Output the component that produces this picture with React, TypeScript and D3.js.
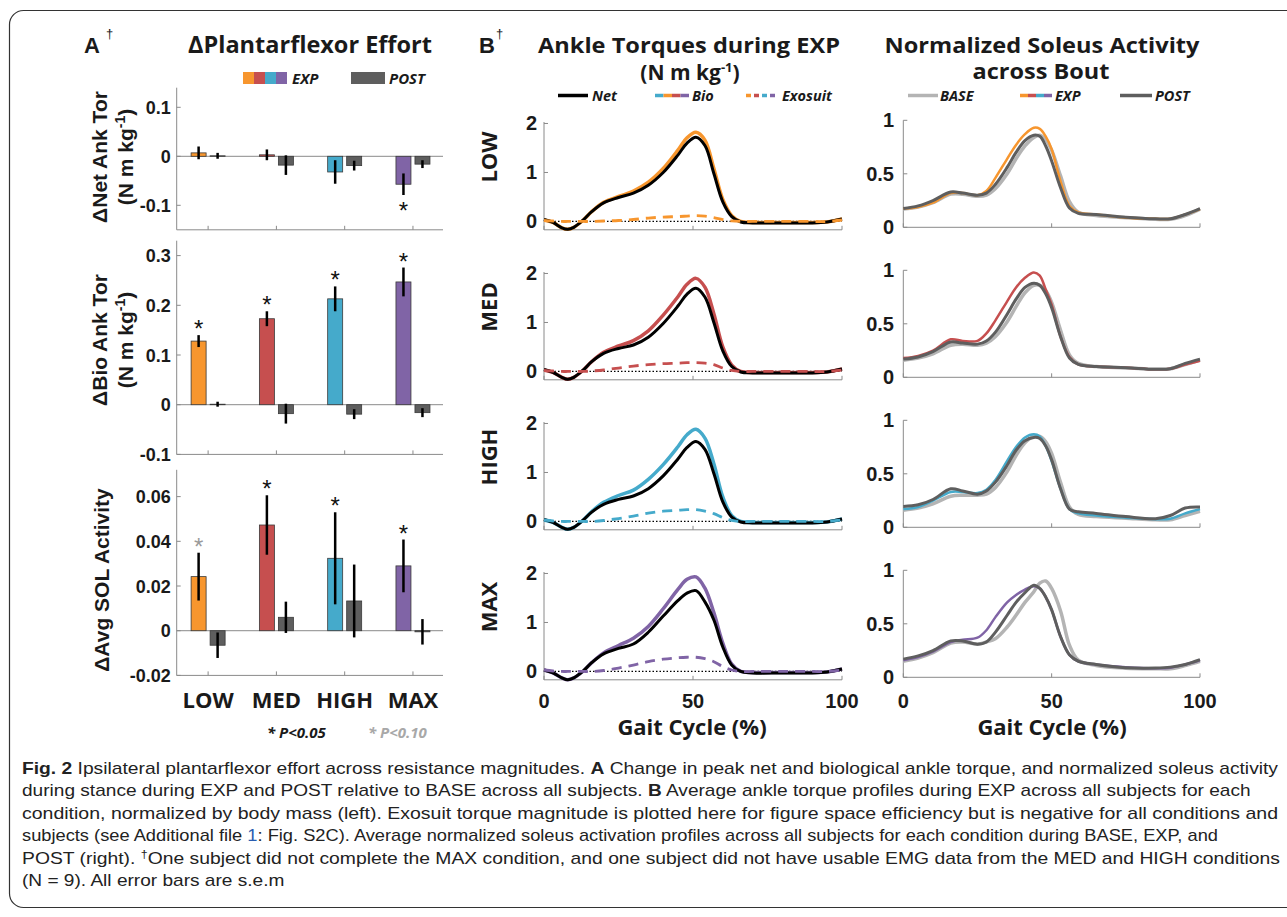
import React, { useEffect, useRef } from "react";
import * as d3 from "d3";

// ---------- data ----------
const conditions = ["LOW", "MED", "HIGH", "MAX"];
const condColors = ["#F7962E", "#C64F4F", "#45AACB", "#8064A6"];
const postColor = "#5E5E5E";
const baseColor = "#B4B4B4";

// panel A: change from BASE, mean and s.e.m.
const netExp = [0.007, 0.003, -0.032, -0.057];
const netExpErr = [0.013, 0.011, 0.024, 0.022];
const netPost = [0.001, -0.018, -0.019, -0.016];
const netPostErr = [0.006, 0.02, 0.01, 0.008];
const netStars = [0, 0, 0, 1];

const bioExp = [0.128, 0.173, 0.213, 0.247];
const bioExpErr = [0.012, 0.015, 0.025, 0.029];
const bioPost = [0.001, -0.018, -0.019, -0.016];
const bioPostErr = [0.005, 0.02, 0.01, 0.009];
const bioStars = [1, 1, 1, 1];

const solExp = [0.0242, 0.0473, 0.0324, 0.029];
const solExpErr = [0.0107, 0.0133, 0.0206, 0.0118];
const solPost = [-0.0065, 0.006, 0.0133, -0.0005];
const solPostErr = [0.0057, 0.007, 0.0163, 0.0057];
const solStars = [2, 1, 1, 1]; // 1: P<0.05, 2: P<0.10

// panel B: ankle torque during EXP (N m kg-1)
const torquePct = [0, 3, 6, 8, 10, 13, 16, 20, 25, 30, 35, 40, 45, 48, 51, 54, 57, 60, 63, 66, 70, 80, 90, 95, 100];
const netLow = [0.04, -0.02, -0.13, -0.16, -0.12, 0.02, 0.2, 0.38, 0.49, 0.58, 0.74, 1.0, 1.36, 1.6, 1.72, 1.55, 0.98, 0.4, 0.1, -0.01, -0.03, -0.03, -0.03, -0.01, 0.05];
const bioLow = [0.03, -0.02, -0.13, -0.16, -0.12, 0.02, 0.2, 0.39, 0.51, 0.62, 0.8, 1.08, 1.46, 1.71, 1.82, 1.66, 1.08, 0.45, 0.12, 0.0, -0.02, -0.02, -0.02, -0.01, 0.05];
const exoLow = [0.02, 0.01, 0.0, 0.0, 0.0, 0.0, 0.0, 0.01, 0.02, 0.04, 0.07, 0.09, 0.1, 0.11, 0.12, 0.11, 0.08, 0.04, 0.01, 0.0, 0.0, 0.0, 0.0, 0.0, 0.03];
const netMed = [0.04, -0.02, -0.12, -0.16, -0.12, 0.02, 0.2, 0.37, 0.47, 0.54, 0.7, 0.98, 1.34, 1.58, 1.7, 1.52, 1.0, 0.42, 0.1, -0.01, -0.03, -0.03, -0.03, -0.01, 0.05];
const bioMed = [0.03, -0.02, -0.12, -0.16, -0.12, 0.02, 0.2, 0.39, 0.52, 0.63, 0.83, 1.15, 1.53, 1.78, 1.9, 1.72, 1.18, 0.5, 0.13, 0.0, -0.02, -0.02, -0.02, -0.01, 0.05];
const exoMed = [0.02, 0.01, 0.0, 0.0, 0.0, 0.0, 0.01, 0.03, 0.07, 0.11, 0.14, 0.16, 0.17, 0.18, 0.18, 0.17, 0.14, 0.07, 0.02, 0.0, 0.0, 0.0, 0.0, 0.0, 0.03];
const netHigh = [0.04, -0.02, -0.12, -0.16, -0.12, 0.02, 0.19, 0.35, 0.45, 0.52, 0.67, 0.93, 1.28, 1.51, 1.63, 1.47, 0.98, 0.4, 0.09, -0.01, -0.03, -0.03, -0.03, -0.01, 0.05];
const bioHigh = [0.03, -0.02, -0.12, -0.16, -0.12, 0.02, 0.2, 0.39, 0.53, 0.64, 0.86, 1.16, 1.53, 1.77, 1.88, 1.7, 1.18, 0.5, 0.12, 0.0, -0.02, -0.02, -0.02, -0.01, 0.05];
const exoHigh = [0.03, 0.01, 0.0, 0.0, 0.0, 0.0, 0.0, 0.02, 0.06, 0.11, 0.17, 0.21, 0.23, 0.24, 0.24, 0.21, 0.16, 0.08, 0.02, 0.0, 0.0, 0.0, 0.0, 0.0, 0.03];
const netMax = [0.03, -0.03, -0.13, -0.17, -0.13, 0.0, 0.18, 0.36, 0.47, 0.56, 0.8, 1.13, 1.45, 1.6, 1.65, 1.42, 1.05, 0.5, 0.13, 0.0, -0.03, -0.03, -0.03, -0.01, 0.05];
const bioMax = [0.03, -0.03, -0.13, -0.17, -0.13, 0.0, 0.18, 0.38, 0.53, 0.68, 0.92, 1.28, 1.68, 1.88, 1.93, 1.7, 1.2, 0.58, 0.15, 0.0, -0.02, -0.02, -0.02, -0.01, 0.05];
const exoMax = [0.03, 0.01, 0.0, 0.0, 0.0, 0.0, 0.0, 0.02, 0.07, 0.13, 0.2, 0.25, 0.28, 0.29, 0.29, 0.26, 0.2, 0.1, 0.03, 0.0, 0.0, 0.0, 0.0, 0.0, 0.03];

// panel B: normalized soleus activity
const emgPct = [0, 5, 10, 16, 20, 25, 28, 31, 35, 38, 41, 44, 46, 48, 50, 53, 56, 59, 65, 75, 85, 90, 95, 100];
const baseLow = [0.17, 0.19, 0.23, 0.31, 0.31, 0.29, 0.3, 0.36, 0.5, 0.64, 0.76, 0.84, 0.86, 0.82, 0.72, 0.48, 0.24, 0.14, 0.11, 0.09, 0.075, 0.075, 0.11, 0.17];
const expLow = [0.175, 0.19, 0.23, 0.32, 0.32, 0.3, 0.34, 0.46, 0.64, 0.77, 0.87, 0.93, 0.92, 0.85, 0.73, 0.43, 0.2, 0.14, 0.12, 0.09, 0.08, 0.08, 0.12, 0.17];
const postLow = [0.175, 0.2, 0.25, 0.33, 0.32, 0.3, 0.32, 0.4, 0.56, 0.7, 0.81, 0.86, 0.85, 0.76, 0.62, 0.37, 0.18, 0.13, 0.12, 0.095, 0.08, 0.08, 0.12, 0.175];
const baseMed = [0.16, 0.18, 0.22, 0.3, 0.31, 0.3, 0.32, 0.38, 0.52, 0.66, 0.79, 0.86, 0.86, 0.81, 0.7, 0.44, 0.21, 0.13, 0.1, 0.09, 0.075, 0.08, 0.12, 0.16];
const expMed = [0.18, 0.2, 0.25, 0.355, 0.34, 0.34, 0.41, 0.53, 0.71, 0.84, 0.93, 0.98, 0.95, 0.82, 0.68, 0.38, 0.19, 0.12, 0.1, 0.09, 0.075, 0.08, 0.12, 0.155];
const postMed = [0.17, 0.19, 0.24, 0.33, 0.32, 0.31, 0.34, 0.42, 0.59, 0.73, 0.84, 0.88, 0.86, 0.78, 0.65, 0.38, 0.18, 0.12, 0.1, 0.09, 0.075, 0.08, 0.13, 0.17];
const baseHigh = [0.16, 0.18, 0.22, 0.29, 0.3, 0.3, 0.31, 0.37, 0.52, 0.67, 0.79, 0.85, 0.85, 0.8, 0.69, 0.42, 0.19, 0.12, 0.1, 0.085, 0.07, 0.07, 0.11, 0.15];
const expHigh = [0.17, 0.19, 0.25, 0.33, 0.33, 0.32, 0.35, 0.44, 0.62, 0.75, 0.84, 0.87, 0.85, 0.76, 0.62, 0.36, 0.17, 0.13, 0.11, 0.09, 0.075, 0.08, 0.13, 0.17];
const postHigh = [0.195, 0.21, 0.26, 0.36, 0.34, 0.31, 0.34, 0.42, 0.58, 0.72, 0.81, 0.84, 0.83, 0.76, 0.63, 0.36, 0.17, 0.145, 0.13, 0.1, 0.08, 0.11, 0.18, 0.19];
const baseMax = [0.15, 0.18, 0.23, 0.32, 0.33, 0.31, 0.33, 0.36, 0.47, 0.58, 0.7, 0.8, 0.88, 0.9, 0.83, 0.62, 0.3, 0.16, 0.11, 0.085, 0.08, 0.08, 0.11, 0.15];
const expMax = [0.16, 0.19, 0.24, 0.33, 0.35, 0.37, 0.44, 0.56, 0.7, 0.77, 0.82, 0.85, 0.83, 0.75, 0.63, 0.38, 0.21, 0.15, 0.12, 0.095, 0.085, 0.09, 0.12, 0.16];
const postMax = [0.17, 0.2, 0.25, 0.34, 0.34, 0.31, 0.33, 0.42, 0.58, 0.7, 0.79, 0.86, 0.83, 0.75, 0.63, 0.38, 0.21, 0.15, 0.12, 0.09, 0.087, 0.095, 0.12, 0.165];

const torqueRows = [
  { net: netLow, bio: bioLow, exo: exoLow },
  { net: netMed, bio: bioMed, exo: exoMed },
  { net: netHigh, bio: bioHigh, exo: exoHigh },
  { net: netMax, bio: bioMax, exo: exoMax },
];
const emgRows = [
  { base: baseLow, exp: expLow, post: postLow },
  { base: baseMed, exp: expMed, post: postMed },
  { base: baseHigh, exp: expHigh, post: postHigh },
  { base: baseMax, exp: expMax, post: postMax },
];

const captionLines = [
  [["Fig. 2", "b"], ["  Ipsilateral plantarflexor effort across resistance magnitudes. ", ""], ["A", "b"], [" Change in peak net and biological ankle torque, and normalized soleus activity", ""]],
  [["during stance during EXP and POST relative to BASE across all subjects. ", ""], ["B", "b"], [" Average ankle torque profiles during EXP across all subjects for each", ""]],
  [["condition, normalized by body mass (left). Exosuit torque magnitude is plotted here for figure space efficiency but is negative for all conditions and", ""]],
  [["subjects (see Additional file ", ""], ["1", "link"], [": Fig. S2C). Average normalized soleus activation profiles across all subjects for each condition during BASE, EXP, and", ""]],
  [["POST (right). ", ""], ["†", "sup"], ["One subject did not complete the MAX condition, and one subject did not have usable EMG data from the MED and HIGH conditions", "after-sup"]],
  [["(N = 9). All error bars are s.e.m", ""]],
];
// measured line widths (0 = keep the mean compression of the others)
const captionWidths = [1256, 0, 1256, 1196, 1258, 0];

// ---------- styling ----------
const ARIAL = "'Liberation Sans', Arial, sans-serif";
const OPEN = "'Open Sans', 'Liberation Sans', sans-serif";
const NARROW = "'Liberation Sans Narrow', 'Liberation Sans', sans-serif";
const AXIS = "#8a8a8a";
const INK = "#1a1a1a";

function fmt(v) {
  return v === 0 ? "0" : String(v);
}

function drawFrame(svg) {
  svg.append("rect")
    .attr("x", 9.5).attr("y", 10.5)
    .attr("width", 1300).attr("height", 897)
    .attr("rx", 14)
    .attr("fill", "none").attr("stroke", "#333").attr("stroke-width", 1.2);
}

function drawPanelA(svg) {
  svg.append("text").attr("x", 84).attr("y", 53).attr("font-family", ARIAL).attr("font-weight", "bold")
    .attr("font-size", 22).attr("fill", INK).text("A");
  svg.append("text").attr("x", 106).attr("y", 38).attr("font-family", ARIAL)
    .attr("font-size", 13).attr("fill", INK).text("†");
  svg.append("text").attr("x", 310).attr("y", 53).attr("text-anchor", "middle")
    .attr("font-family", OPEN).attr("font-weight", "bold").attr("font-size", 23)
    .attr("textLength", 244).attr("lengthAdjust", "spacingAndGlyphs").attr("fill", INK)
    .text("ΔPlantarflexor Effort");

  // legend
  condColors.forEach((c, k) => {
    svg.append("rect").attr("x", 243 + k * 11).attr("y", 72).attr("width", 11).attr("height", 12).attr("fill", c);
  });
  svg.append("text").attr("x", 292).attr("y", 84).attr("font-family", OPEN).attr("font-style", "italic")
    .attr("font-weight", "bold").attr("font-size", 15).attr("fill", INK).text("EXP");
  svg.append("rect").attr("x", 351).attr("y", 72).attr("width", 34).attr("height", 12).attr("fill", postColor);
  svg.append("text").attr("x", 389).attr("y", 84).attr("font-family", OPEN).attr("font-style", "italic")
    .attr("font-weight", "bold").attr("font-size", 15).attr("fill", INK).text("POST");

  const x = d3.scaleLinear().domain([0.54, 4.44]).range([176.7, 443]);

  const panels = [
    { exp: netExp, expErr: netExpErr, post: netPost, postErr: netPostErr, stars: netStars,
      domain: [-0.15, 0.14], range: [229.8, 87.7], ticks: [-0.1, 0, 0.1],
      label: ["ΔNet Ank Tor", true], labelY: 157 },
    { exp: bioExp, expErr: bioExpErr, post: bioPost, postErr: bioPostErr, stars: bioStars,
      domain: [-0.1, 0.33], range: [454.4, 240.7], ticks: [-0.1, 0, 0.1, 0.2, 0.3],
      label: ["ΔBio Ank Tor", true], labelY: 340 },
    { exp: solExp, expErr: solExpErr, post: solPost, postErr: solPostErr, stars: solStars,
      domain: [-0.02, 0.072], range: [675.4, 469.8], ticks: [-0.02, 0, 0.02, 0.04, 0.06],
      label: ["ΔAvg SOL Activity", false], labelY: 580 },
  ];

  panels.forEach((p) => {
    const y = d3.scaleLinear().domain(p.domain).range(p.range);
    const g = svg.append("g");
    const [x0, x1] = x.range();
    const yb = y(p.domain[0]);

    // axes
    g.append("line").attr("x1", x0).attr("x2", x0).attr("y1", y(p.domain[1])).attr("y2", yb)
      .attr("stroke", AXIS).attr("stroke-width", 1);
    g.append("line").attr("x1", x0).attr("x2", x1).attr("y1", yb).attr("y2", yb)
      .attr("stroke", AXIS).attr("stroke-width", 1);
    g.append("line").attr("x1", x0).attr("x2", x1).attr("y1", y(0)).attr("y2", y(0))
      .attr("stroke", AXIS).attr("stroke-width", 1);
    p.ticks.forEach((t) => {
      g.append("line").attr("x1", x0).attr("x2", x0 + 4).attr("y1", y(t)).attr("y2", y(t))
        .attr("stroke", AXIS);
      g.append("text").attr("x", x0 - 6).attr("y", y(t) + 6.5).attr("text-anchor", "end")
        .attr("font-family", ARIAL).attr("font-weight", "bold").attr("font-size", 18).attr("fill", INK)
        .text(fmt(t));
    });
    conditions.forEach((_, i) => {
      g.append("line").attr("x1", x(i + 1)).attr("x2", x(i + 1)).attr("y1", yb).attr("y2", yb - 4)
        .attr("stroke", AXIS);
    });

    // bars
    const bw = 15;
    const series = [
      { vals: p.exp, errs: p.expErr, off: -9.5, color: (i) => condColors[i] },
      { vals: p.post, errs: p.postErr, off: 9.5, color: () => postColor },
    ];
    series.forEach((s) => {
      s.vals.forEach((v, i) => {
        const cx = x(i + 1) + s.off;
        g.append("rect").attr("x", cx - bw / 2).attr("width", bw)
          .attr("y", Math.min(y(v), y(0))).attr("height", Math.abs(y(v) - y(0)))
          .attr("fill", s.color(i)).attr("stroke", "#3a3a3a").attr("stroke-width", 0.8);
        g.append("line").attr("x1", cx).attr("x2", cx)
          .attr("y1", y(v - s.errs[i])).attr("y2", y(v + s.errs[i]))
          .attr("stroke", "#000").attr("stroke-width", 2.5);
      });
    });

    // significance stars
    p.stars.forEach((st, i) => {
      if (!st) return;
      const v = p.exp[i];
      const e = p.expErr[i];
      const cy = v >= 0 ? y(v + e) - 11 : y(v - e) + 11;
      g.append("text").attr("x", x(i + 1) - 9.5).attr("y", cy + 13).attr("text-anchor", "middle")
        .attr("font-family", ARIAL).attr("font-size", 24)
        .attr("fill", st === 1 ? "#111" : "#9a9a9a").text("*");
    });

    // y label
    const lx = p.label[1] ? 107 : 108.5;
    g.append("text").attr("transform", `translate(${lx},${p.labelY}) rotate(-90)`)
      .attr("text-anchor", "middle").attr("font-family", ARIAL).attr("font-weight", "bold")
      .attr("font-size", 21).attr("fill", INK).text(p.label[0]);
    if (p.label[1]) {
      const t2 = g.append("text").attr("transform", `translate(133,${p.labelY}) rotate(-90)`)
        .attr("text-anchor", "middle").attr("font-family", ARIAL).attr("font-weight", "bold")
        .attr("font-size", 21).attr("fill", INK);
      t2.append("tspan").text("(N m kg");
      t2.append("tspan").attr("dy", -8).attr("font-size", 14).text("-1");
      t2.append("tspan").attr("dy", 8).text(")");
    }
  });

  conditions.forEach((c, i) => {
    svg.append("text").attr("x", x(i + 1)).attr("y", 708).attr("text-anchor", "middle")
      .attr("font-family", OPEN).attr("font-weight", "bold").attr("font-size", 22).attr("fill", INK)
      .text(c);
  });
  svg.append("text").attr("x", 267).attr("y", 738).attr("font-family", OPEN).attr("font-style", "italic")
    .attr("font-weight", "bold").attr("font-size", 15).attr("fill", INK).text("* P<0.05");
  svg.append("text").attr("x", 368).attr("y", 738).attr("font-family", OPEN).attr("font-style", "italic")
    .attr("font-weight", "bold").attr("font-size", 15).attr("fill", "#a8a8a8").text("* P<0.10");
}

function multiLine(svg, x0, x1, y, colors, dash, width) {
  const seg = (x1 - x0) / colors.length;
  colors.forEach((c, k) => {
    svg.append("line").attr("x1", x0 + k * seg).attr("x2", x0 + (k + 1) * seg).attr("y1", y).attr("y2", y)
      .attr("stroke", c).attr("stroke-width", width).attr("stroke-dasharray", dash);
  });
}

function legendText(svg, x, y, s) {
  svg.append("text").attr("x", x).attr("y", y).attr("font-family", OPEN).attr("font-style", "italic")
    .attr("font-weight", "bold").attr("font-size", 14.5).attr("fill", INK).text(s);
}

function drawPanelB(svg) {
  svg.append("text").attr("x", 479).attr("y", 53).attr("font-family", ARIAL).attr("font-weight", "bold")
    .attr("font-size", 22).attr("fill", INK).text("B");
  svg.append("text").attr("x", 496).attr("y", 38).attr("font-family", ARIAL)
    .attr("font-size", 13).attr("fill", INK).text("†");

  // torque titles
  svg.append("text").attr("x", 689).attr("y", 53).attr("text-anchor", "middle")
    .attr("font-family", OPEN).attr("font-weight", "bold").attr("font-size", 21)
    .attr("textLength", 302).attr("lengthAdjust", "spacingAndGlyphs").attr("fill", INK)
    .text("Ankle Torques during EXP");
  const sub = svg.append("text").attr("x", 690).attr("y", 80).attr("text-anchor", "middle")
    .attr("font-family", OPEN).attr("font-weight", "bold").attr("font-size", 21).attr("fill", INK);
  sub.append("tspan").text("(N m kg");
  sub.append("tspan").attr("dy", -8).attr("font-size", 13).text("-1");
  sub.append("tspan").attr("dy", 8).text(")");

  // EMG titles
  svg.append("text").attr("x", 1042).attr("y", 53).attr("text-anchor", "middle")
    .attr("font-family", OPEN).attr("font-weight", "bold").attr("font-size", 21)
    .attr("textLength", 315).attr("lengthAdjust", "spacingAndGlyphs").attr("fill", INK)
    .text("Normalized Soleus Activity");
  svg.append("text").attr("x", 1041).attr("y", 79).attr("text-anchor", "middle")
    .attr("font-family", OPEN).attr("font-weight", "bold").attr("font-size", 21)
    .attr("textLength", 137).attr("lengthAdjust", "spacingAndGlyphs").attr("fill", INK)
    .text("across Bout");

  // legends
  const ly = 95.5;
  const ty = 101;
  svg.append("line").attr("x1", 558).attr("x2", 588).attr("y1", ly).attr("y2", ly)
    .attr("stroke", "#000").attr("stroke-width", 3.5);
  legendText(svg, 592, ty, "Net");
  multiLine(svg, 655, 689, ly, [condColors[2], condColors[0], condColors[1], condColors[3]], null, 3.5);
  legendText(svg, 692, ty, "Bio");
  multiLine(svg, 746, 778, ly, [condColors[0], condColors[1], condColors[2], condColors[3]], "5,3", 3.5);
  legendText(svg, 782, ty, "Exosuit");

  svg.append("line").attr("x1", 908).attr("x2", 938).attr("y1", ly).attr("y2", ly)
    .attr("stroke", baseColor).attr("stroke-width", 3.5);
  legendText(svg, 940, ty, "BASE");
  multiLine(svg, 1020, 1052, ly, condColors, null, 3.5);
  legendText(svg, 1055, ty, "EXP");
  svg.append("line").attr("x1", 1120).attr("x2", 1152).attr("y1", ly).attr("y2", ly)
    .attr("stroke", postColor).attr("stroke-width", 3.5);
  legendText(svg, 1155, ty, "POST");

  const xt = d3.scaleLinear().domain([0, 100]).range([544, 842]);
  const xe = d3.scaleLinear().domain([0, 100]).range([903.3, 1200]);
  const smooth = d3.curveCatmullRom.alpha(0.5);

  conditions.forEach((c, r) => {
    const color = condColors[r];

    // ---- torque ----
    const zt = 221.5 + 150 * r;
    const yt = d3.scaleLinear().domain([-0.17, 2.03]).range([zt + 8.3, zt - 99.5]);
    const g = svg.append("g");
    g.append("line").attr("x1", 544).attr("x2", 544).attr("y1", yt(2.03)).attr("y2", yt(-0.17))
      .attr("stroke", AXIS);
    g.append("line").attr("x1", 544).attr("x2", 842).attr("y1", yt(-0.17)).attr("y2", yt(-0.17))
      .attr("stroke", AXIS);
    [0, 1, 2].forEach((t) => {
      g.append("line").attr("x1", 544).attr("x2", 548).attr("y1", yt(t)).attr("y2", yt(t)).attr("stroke", AXIS);
      g.append("text").attr("x", 537).attr("y", yt(t) + 7).attr("text-anchor", "end")
        .attr("font-family", ARIAL).attr("font-weight", "bold").attr("font-size", 20).attr("fill", INK)
        .text(t);
    });
    [0, 50, 100].forEach((t) => {
      g.append("line").attr("x1", xt(t)).attr("x2", xt(t)).attr("y1", yt(-0.17)).attr("y2", yt(-0.17) - 4)
        .attr("stroke", AXIS);
    });
    g.append("line").attr("x1", 544).attr("x2", 842).attr("y1", yt(0)).attr("y2", yt(0))
      .attr("stroke", "#000").attr("stroke-width", 1.2).attr("stroke-dasharray", "1.5,2");

    const row = torqueRows[r];
    const lt = d3.line().x((d, i) => xt(torquePct[i])).y((d) => yt(d)).curve(smooth);
    g.append("path").attr("d", lt(row.bio)).attr("fill", "none").attr("stroke", color).attr("stroke-width", 3.5);
    g.append("path").attr("d", lt(row.net)).attr("fill", "none").attr("stroke", "#000").attr("stroke-width", 3);
    g.append("path").attr("d", lt(row.exo)).attr("fill", "none").attr("stroke", color).attr("stroke-width", 2.8)
      .attr("stroke-dasharray", "10,7");

    g.append("text").attr("transform", `translate(497,${157 + 150 * r}) rotate(-90)`)
      .attr("text-anchor", "middle").attr("font-family", OPEN).attr("font-weight", "bold")
      .attr("font-size", 22).attr("fill", INK).text(c);

    // ---- EMG ----
    const ze = 227.3 + 150 * r;
    const ye = d3.scaleLinear().domain([0, 1]).range([ze, ze - 107]);
    const h = svg.append("g");
    h.append("line").attr("x1", 903.3).attr("x2", 903.3).attr("y1", ye(1)).attr("y2", ye(0)).attr("stroke", AXIS);
    h.append("line").attr("x1", 903.3).attr("x2", 1200).attr("y1", ye(0)).attr("y2", ye(0)).attr("stroke", AXIS);
    [0, 0.5, 1].forEach((t) => {
      h.append("line").attr("x1", 903.3).attr("x2", 907.3).attr("y1", ye(t)).attr("y2", ye(t)).attr("stroke", AXIS);
      h.append("text").attr("x", 894).attr("y", ye(t) + 7).attr("text-anchor", "end")
        .attr("font-family", ARIAL).attr("font-weight", "bold").attr("font-size", 20).attr("fill", INK)
        .text(fmt(t));
    });
    [0, 50, 100].forEach((t) => {
      h.append("line").attr("x1", xe(t)).attr("x2", xe(t)).attr("y1", ye(0)).attr("y2", ye(0) - 4).attr("stroke", AXIS);
    });
    const er = emgRows[r];
    const le = d3.line().x((d, i) => xe(emgPct[i])).y((d) => ye(d)).curve(smooth);
    h.append("path").attr("d", le(er.base)).attr("fill", "none").attr("stroke", baseColor).attr("stroke-width", 3.5);
    h.append("path").attr("d", le(er.exp)).attr("fill", "none").attr("stroke", color).attr("stroke-width", 2.5);
    h.append("path").attr("d", le(er.post)).attr("fill", "none").attr("stroke", postColor).attr("stroke-width", 3);
  });

  // x tick labels + titles
  [[xt, 692], [xe, 1052]].forEach(([sc, cx]) => {
    [0, 50, 100].forEach((t) => {
      svg.append("text").attr("x", sc(t)).attr("y", 708).attr("text-anchor", "middle")
        .attr("font-family", ARIAL).attr("font-weight", "bold").attr("font-size", 20).attr("fill", INK)
        .text(t);
    });
    svg.append("text").attr("x", cx).attr("y", 735).attr("text-anchor", "middle")
      .attr("font-family", OPEN).attr("font-weight", "bold").attr("font-size", 22).attr("fill", INK)
      .text("Gait Cycle (%)");
  });
}

function drawCaption(svg) {
  const nodes = captionLines.map((parts, k) => {
    const t = svg.append("text").attr("x", 22).attr("y", 774 + 22.4 * k)
      .attr("font-family", NARROW).attr("font-size", 17).attr("fill", "#222");
    parts.forEach(([s, kind]) => {
      const sp = t.append("tspan").text(s);
      if (kind === "b") sp.attr("font-weight", "bold");
      if (kind === "link") sp.attr("fill", "#2a5db0");
      if (kind === "sup") sp.attr("font-size", 11).attr("dy", -6);
      if (kind === "after-sup") sp.attr("dy", 6);
    });
    return t;
  });
  // squeeze each line to its measured width; lines without one keep the average squeeze
  const natural = nodes.map((t) => t.node().getComputedTextLength());
  const ratios = captionWidths.map((w, k) => (w ? w / natural[k] : 0)).filter((r) => r > 0);
  const meanRatio = d3.mean(ratios);
  nodes.forEach((t, k) => {
    const w = captionWidths[k] || natural[k] * meanRatio;
    t.attr("textLength", w).attr("lengthAdjust", "spacingAndGlyphs");
  });
}

export default function App() {
  const ref = useRef(null);
  useEffect(() => {
    document.body.style.margin = "0";
    const svg = d3.select(ref.current);
    svg.selectAll("*").remove();
    drawFrame(svg);
    drawPanelA(svg);
    drawPanelB(svg);
    drawCaption(svg);
  }, []);
  return <svg ref={ref} width={1287} height={917} style={{ display: "block", background: "#fff" }} />;
}
